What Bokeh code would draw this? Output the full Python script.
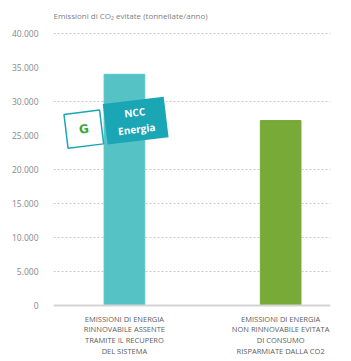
from bokeh.plotting import figure
from bokeh.models import FixedTicker, Range1d, Label, Span
from bokeh.embed import file_html
from bokeh.resources import INLINE

# ---- data ----
categories = [
    "EMISSIONI DI ENERGIA\nRINNOVABILE ASSENTE\nTRAMITE IL RECUPERO\nDEL SISTEMA",
    "EMISSIONI DI ENERGIA\nNON RINNOVABILE EVITATA\nDI CONSUMO\nRISPARMIATE DALLA CO2",
]
values = [34000, 27200]
bar_colors = ["#55C3C6", "#78AA38"]
y_ticks = [0, 5000, 10000, 15000, 20000, 25000, 30000, 35000, 40000]
y_tick_labels = ["0", "5.000", "10.000", "15.000", "20.000", "25.000", "30.000", "35.000", "40.000"]
grid_values = [5000, 10000, 15000, 20000, 30000, 40000]
title_text = "Emissioni di CO\u2082 evitate (tonnellate/anno)"

xs = list(range(len(categories)))
x_start, x_end = -0.454, 1.319
y_min, y_max = 0, 40000

H = 361
top_px, base_px = 33, 305          # page rows of y_max and of the baseline
ppu = (base_px - top_px) / (y_max - y_min)
y_start = y_min - (H - base_px) / ppu
y_end = y_max + top_px / ppu

p = figure(width=348, height=H, output_backend="svg", toolbar_location=None,
           x_range=Range1d(x_start, x_end), y_range=Range1d(y_start, y_end),
           min_border_left=53, min_border_right=18, min_border_top=0, min_border_bottom=0)
p.title.visible = False
p.xaxis.visible = False

p.vbar(x=xs, bottom=y_min, top=values, width=0.26, color=bar_colors)

p.outline_line_color = None
p.background_fill_color = "white"

# y axis
p.yaxis.ticker = FixedTicker(ticks=y_ticks)
p.yaxis.major_label_overrides = {t: l for t, l in zip(y_ticks, y_tick_labels)}
p.yaxis.axis_line_color = None
p.yaxis.major_tick_line_color = None
p.yaxis.minor_tick_line_color = None
p.yaxis.major_label_text_font = "Open Sans"
p.yaxis.major_label_text_font_size = "8.5px"
p.yaxis.major_label_text_color = "#888888"
p.yaxis.major_label_standoff = 9

# baseline
p.add_layout(Span(location=y_min, dimension="width", line_color="#d4d4d4", line_width=2))

# grids
p.xgrid.grid_line_color = None
p.ygrid.ticker = FixedTicker(ticks=grid_values)
p.ygrid.grid_line_color = "#c8c8c8"
p.ygrid.grid_line_dash = "2 2"
p.ygrid.grid_line_width = 1

# title
p.add_layout(Label(x=x_start, y=y_max + 18 / ppu, text=title_text,
                   text_font="Open Sans", text_font_size="8px", text_color="#808080",
                   text_align="left", text_baseline="middle"))

# category labels
for x, c in zip(xs, categories):
    p.add_layout(Label(x=x, y=y_min - 8 / ppu, text=c,
                       text_font="Open Sans", text_font_size="7.5px", text_color="#606060",
                       text_align="center", text_baseline="top", text_line_height=1.08))

# logo (decoration)
p.add_layout(Label(x=0.072, y=27190, text="NCC\nEnergia", angle=0.12,
                   text_font="Open Sans", text_font_size="10px", text_font_style="bold",
                   text_color="white", text_align="center", text_baseline="middle",
                   background_fill_color="#1BA6B5", padding=(12, 5)))
p.add_layout(Label(x=-0.26, y=25935, text="G", angle=0.12,
                   text_font="DejaVu Sans", text_font_size="12px", text_font_style="bold",
                   text_color="#3AA63A", text_align="center", text_baseline="middle",
                   background_fill_color="white", border_line_color="#1BA6B5",
                   border_line_width=1.5, padding=(13, 10)))

open("out.html", "w").write(file_html(p, INLINE))
